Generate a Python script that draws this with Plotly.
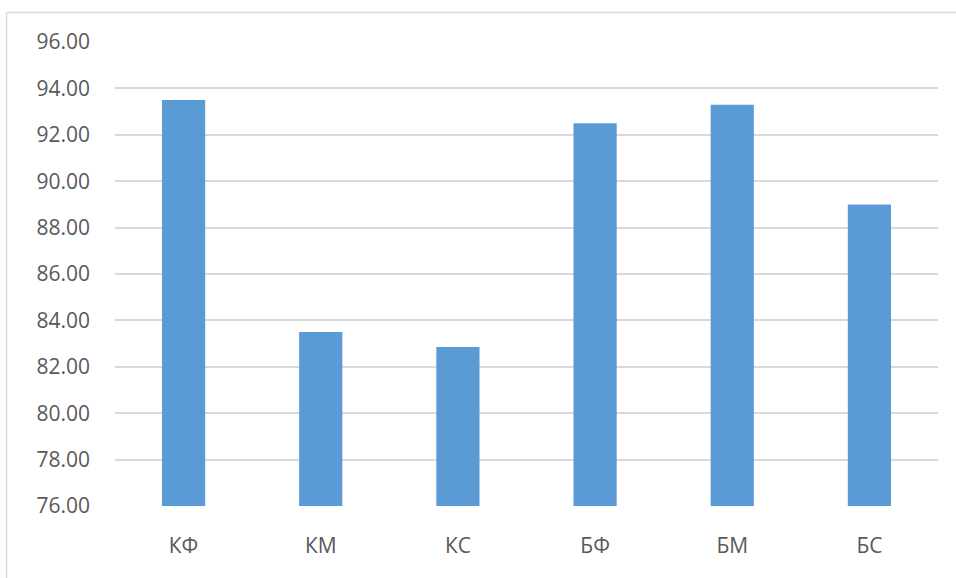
import plotly.graph_objects as go

categories = ["КФ", "КМ", "КС", "БФ", "БМ", "БС"]
values = [93.5, 83.5, 82.85, 92.5, 93.3, 89.0]
y_ticks = [76, 78, 80, 82, 84, 86, 88, 90, 92, 94, 96]

W, H = 956, 578
L, R, T, B = 115, 18, 42, 72

fig = go.Figure(
    go.Bar(
        x=categories,
        y=values,
        marker=dict(color="#5B9BD5", line=dict(width=0)),
        width=0.315,
        hoverinfo="x+y",
    )
)

# outer chart border (top and left edges visible)
pw, ph = W - L - R, H - T - B
x0 = (6.5 - L) / pw
y1 = 1 + (T - 12.5) / ph
fig.add_shape(type="line", xref="paper", yref="paper",
              x0=x0, x1=(W + 5 - L) / pw, y0=y1, y1=y1,
              line=dict(color="#D9D9D9", width=1.5))
fig.add_shape(type="line", xref="paper", yref="paper",
              x0=x0, x1=x0, y0=y1, y1=-(B + 5) / ph,
              line=dict(color="#D9D9D9", width=1.5))

fig.update_layout(
    width=W,
    height=H,
    margin=dict(l=L, r=R, t=T, b=B),
    paper_bgcolor="white",
    plot_bgcolor="white",
    font=dict(family="Open Sans, Liberation Sans, sans-serif", size=21, color="#595959"),
    showlegend=False,
    bargap=0.685,
    xaxis=dict(
        showgrid=False,
        showline=False,
        ticks="",
        ticklabelstandoff=25,
        tickfont=dict(size=21, color="#595959"),
    ),
    yaxis=dict(
        range=[76, 96],
        tickvals=y_ticks,
        tickformat=".2f",
        showgrid=True,
        gridcolor="#D9D9D9",
        gridwidth=1.5,
        zeroline=False,
        showline=False,
        ticks="",
        ticklabelstandoff=24,
        tickfont=dict(size=21, color="#595959"),
    ),
)

fig.write_html("out.html")
